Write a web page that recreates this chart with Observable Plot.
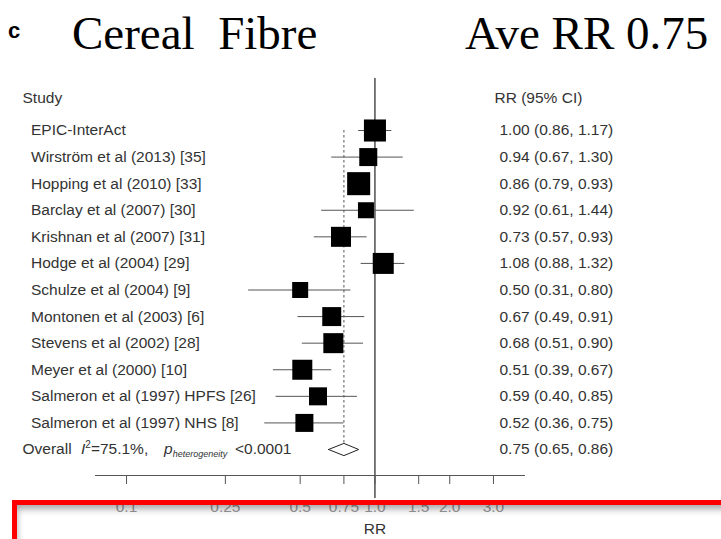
<!DOCTYPE html>
<html><head><meta charset="utf-8">
<script src="https://cdn.jsdelivr.net/npm/d3@7"></script>
<script src="https://cdn.jsdelivr.net/npm/@observablehq/plot@0.6"></script>
<style>
html,body{margin:0;padding:0;background:#fff;}
#wrap{position:relative;width:721px;height:539px;overflow:hidden;background:#fff;}
#chart{position:absolute;left:0;top:0;}
.t{position:absolute;white-space:pre;line-height:1;color:#000;}
#panel{left:8px;top:18px;font:bold 22px "Liberation Sans",Arial,sans-serif;}
#title{left:72px;top:6px;font:47px "Liberation Serif","Times New Roman",serif;}
#ave{left:465px;top:6px;font:47px "Liberation Serif","Times New Roman",serif;}
#box{position:absolute;left:12px;top:500px;width:740px;height:70px;border:5px solid #ff0000;box-shadow:inset 3px 7px 7px -3px rgba(0,0,0,0.35);pointer-events:none;}
</style></head>
<body>
<div id="wrap">
  <div id="chart"></div>
  <div class="t" id="panel">c</div>
  <div class="t" id="title">Cereal  Fibre</div>
  <div class="t" id="ave">Ave RR 0.75</div>
  <div id="box"></div>
</div>
<script>
const studies = ["EPIC-InterAct", "Wirström et al (2013) [35]", "Hopping et al (2010) [33]", "Barclay et al (2007) [30]", "Krishnan et al (2007) [31]", "Hodge et al (2004) [29]", "Schulze et al (2004) [9]", "Montonen et al (2003) [6]", "Stevens et al (2002) [28]", "Meyer et al (2000) [10]", "Salmeron et al (1997) HPFS [26]", "Salmeron et al (1997) NHS [8]"];
const rr = [1.00, 0.94, 0.86, 0.92, 0.73, 1.08, 0.50, 0.67, 0.68, 0.51, 0.59, 0.52];
const lo = [0.86, 0.67, 0.79, 0.61, 0.57, 0.88, 0.31, 0.49, 0.51, 0.39, 0.40, 0.36];
const hi = [1.17, 1.30, 0.93, 1.44, 0.93, 1.32, 0.80, 0.91, 0.90, 0.67, 0.85, 0.75];
const weights = [10.8, 7.2, 11.8, 5.7, 8.9, 9.8, 5.7, 8.0, 8.9, 8.9, 7.2, 7.2];
const overall = {label: "Overall", rr: 0.75, lo: 0.65, hi: 0.86, i2: "75.1%", p: "<0.0001"};
const tickValues = [0.1, 0.25, 0.5, 0.75, 1.0, 1.5, 2.0, 3.0];
const tickLabels = ["0.1", "0.25", "0.5", "0.75", "1.0", "1.5", "2.0", "3.0"];
const headers = {study: "Study", ci: "RR (95% CI)", axis: "RR"};
const nullValue = 1;

const fmt = v => v.toFixed(2);
const rows = studies.map((s, i) => ({i, study: s, rr: rr[i], lo: lo[i], hi: hi[i], w: weights[i],
  label: `${fmt(rr[i])} (${fmt(lo[i])}, ${fmt(hi[i])})`}));
const oi = studies.length;
const overallRow = {i: oi, ...overall, text: `${fmt(overall.rr)} (${fmt(overall.lo)}, ${fmt(overall.hi)})`};
const ticks = tickValues.map((v, k) => ({v, label: tickLabels[k]}));
const dh = 0.23;
const diamond = [
  {x: overall.lo, y: oi}, {x: overall.rr, y: oi - dh}, {x: overall.hi, y: oi},
  {x: overall.rr, y: oi + dh}, {x: overall.lo, y: oi}
];

const W = 721, H = 539, mL = 95, mR = 197, mT = 78, mB = 64;
const frameH = H - mT - mB;
const txt = "#333";
const fs = 15.5;

const plot = Plot.plot({
  width: W, height: H,
  marginLeft: mL, marginRight: mR, marginTop: mT, marginBottom: mB,
  style: {fontFamily: "'Liberation Sans', Arial, sans-serif", fontSize: fs + "px", background: "transparent"},
  x: {type: "log", domain: [0.075, 4], axis: null},
  y: {domain: [0, oi], range: [130, 449], axis: null},
  r: {type: "sqrt", domain: [0, 11.8], range: [0, 13]},
  marks: [
    Plot.ruleX([nullValue], {stroke: "#222", strokeWidth: 1.2, insetBottom: -23}),
    Plot.ruleX([overall.rr], {y1: 0, y2: oi - dh, stroke: "#555", strokeDasharray: "2.5,2.5"}),
    Plot.ruleY(rows, {y: "i", x1: "lo", x2: "hi", stroke: "#555", strokeWidth: 1}),
    Plot.dot(rows, {x: "rr", y: "i", r: "w", symbol: "square", fill: "#000", stroke: null}),
    Plot.line(diamond, {x: "x", y: "y", stroke: "#222", strokeWidth: 1, fill: "#fff"}),
    Plot.frame({anchor: "bottom", stroke: "#555"}),
    Plot.ruleX(ticks, {x: "v", insetTop: frameH, insetBottom: -9, stroke: "#555"}),
    Plot.text(ticks, {x: "v", text: "label", frameAnchor: "bottom", lineAnchor: "middle", dy: 32, fill: "#999"}),
    Plot.text([{x: nullValue, label: headers.axis}], {x: "x", text: "label", frameAnchor: "bottom", lineAnchor: "middle", dy: 54, fill: txt}),
    Plot.text([headers.study], {frameAnchor: "top-left", lineAnchor: "middle", dx: 22 - mL, dy: 20, textAnchor: "start", fill: txt}),
    Plot.text([headers.ci], {frameAnchor: "top-right", lineAnchor: "middle", dx: 494 - (W - mR), dy: 20, textAnchor: "start", fill: txt}),
    Plot.text(rows, {y: "i", text: "study", frameAnchor: "left", dx: 30.5 - mL, textAnchor: "start", fill: txt}),
    Plot.text(rows, {y: "i", text: "label", frameAnchor: "right", dx: 499 - (W - mR), textAnchor: "start", fill: txt}),
    Plot.text([overallRow], {y: "i", text: "label", frameAnchor: "left", dx: 22 - mL, textAnchor: "start", fill: txt}),
    Plot.text([overallRow], {y: "i", text: "text", frameAnchor: "right", dx: 499 - (W - mR), textAnchor: "start", fill: txt})
  ]
});

document.getElementById("chart").appendChild(plot);

// heterogeneity annotation with super/subscripts
const svg = d3.select(plot);
const yPix = plot.scale("y").apply(oi);
const t = svg.append("text").attr("y", yPix).attr("dy", "0.35em").attr("fill", txt)
  .attr("text-anchor", "start").style("font-size", fs + "px");
t.append("tspan").attr("x", 81).attr("font-style", "italic").text("I");
t.append("tspan").attr("dy", -6).style("font-size", "10px").text("2");
t.append("tspan").attr("dy", 6).text("=" + overall.i2 + ",");
t.append("tspan").attr("x", 164).attr("font-style", "italic").text("p");
t.append("tspan").attr("dy", 3).attr("font-style", "italic").style("font-size", "9px").text("heterogeneity");
t.append("tspan").attr("dy", -3).attr("x", 235).text(overall.p);
</script>
</body></html>
